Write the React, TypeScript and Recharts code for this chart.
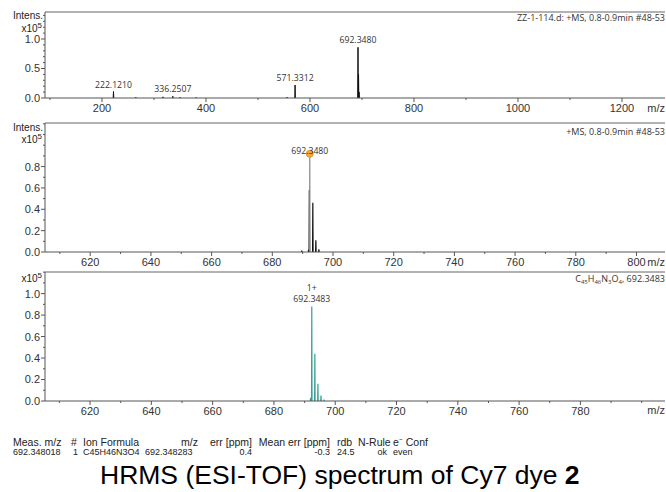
import React from "react";
import { LineChart, Line, XAxis, YAxis, ReferenceDot, ReferenceLine } from "recharts";

// survey spectrum (top panel), intensities in x10^5
const surveyMz = [222.121, 265.1, 317.2, 336.2507, 350.3, 381.2, 555.8, 571.3312, 692.348, 693.35, 694.35];
const surveyIntensity = [0.11, 0.012, 0.02, 0.03, 0.012, 0.01, 0.015, 0.22, 0.86, 0.4, 0.1];
const surveyLabelMz = [222.121, 336.2507, 571.3312, 692.348];
const surveyLabelIntensity = [0.11, 0.03, 0.22, 0.86];
const surveyLabelText = ["222.1210", "336.2507", "571.3312", "692.3480"];
const surveyXLabels = [200, 400, 600, 800, 1000, 1200];
const surveyXMinor = [100, 300, 500, 700, 900, 1100];
const surveyYLabels = [0, 0.5, 1.0];
const surveyYMinor = [0.1, 0.2, 0.3, 0.4, 0.6, 0.7, 0.8, 0.9, 1.1, 1.2, 1.3, 1.4];

// zoomed measured spectrum (middle panel)
const zoomMz = [689.7, 691.95, 692.2, 693.35, 694.35, 695.35];
const zoomIntensity = [0.012, 0.02, 0.58, 0.46, 0.11, 0.025];
const zoomApexMz = [692.348];
const zoomApexIntensity = [0.92];
const zoomApexText = ["692.3480"];
const zoomXLabels = [620, 640, 660, 680, 700, 720, 740, 760, 780, 800];
const zoomXMinor = [610, 630, 650, 670, 690, 710, 730, 750, 770, 790];
const zoomYLabels = [0, 0.2, 0.4, 0.6, 0.8];
const zoomYMinor = [0.1, 0.3, 0.5, 0.7, 0.9, 1.0, 1.1, 1.2];

// simulated isotope pattern (bottom panel)
const simMz = [691.95, 692.348, 693.35, 694.35, 695.35, 696.35];
const simIntensity = [0.03, 0.88, 0.44, 0.16, 0.05, 0.012];
const simLabelText = ["1+", "692.3483"];
const simXLabels = [620, 640, 660, 680, 700, 720, 740, 760, 780];
const simXMinor = [610, 630, 650, 670, 690, 710, 730, 750, 770, 790, 800];
const simYLabels = [0, 0.2, 0.4, 0.6, 0.8, 1.0];
const simYMinor = [0.1, 0.3, 0.5, 0.7, 0.9, 1.1, 1.2];

const tableHead = ["Meas. m/z", "#", "Ion Formula", "m/z", "err [ppm]", "Mean err [ppm]", "rdb", "N-Rule", "e\u207B Conf"];
const tableRow = ["692.348018", "1", "C45H46N3O4", "692.348283", "0.4", "-0.3", "24.5", "ok", "even"];

const ARIAL = "'Liberation Sans', Arial, sans-serif";
const SANS = "'Open Sans', sans-serif";

// column anchors for the result table: [x, align]
const headPos: [number, "l" | "r"][] = [[13, "l"], [71, "l"], [83, "l"], [198, "r"], [252, "r"], [330, "r"], [337, "l"], [358, "l"], [393, "l"]];
const rowPos: [number, "l" | "r"][] = [[13, "l"], [73, "l"], [83, "l"], [145, "l"], [252, "r"], [330, "r"], [337, "l"], [387, "r"], [393, "l"]];

const sticks = (mz: number[], ints: number[], hw: number) => {
  const pts: { mz: number; v: number | null }[] = [];
  mz.forEach((m, i) => {
    pts.push({ mz: m - hw, v: 0 }, { mz: m, v: ints[i] }, { mz: m + hw, v: 0 }, { mz: m + hw * 1.01, v: null });
  });
  return pts;
};

const isIn = (arr: number[], v: number) => arr.some((a) => Math.abs(a - v) < 1e-6);

const makeYTick = (labels: number[]) => (props: any) => {
  const { x, y, payload } = props;
  const major = isIn(labels, payload.value);
  const len = major ? 4 : 2;
  return (
    <g>
      <line x1={x - len} x2={x} y1={y} y2={y} stroke="#555" />
      {major && (
        <text x={x - 5} y={y} dy="0.36em" textAnchor="end" fontSize={11} fill="#333" fontFamily={ARIAL}>
          {payload.value.toFixed(1)}
        </text>
      )}
    </g>
  );
};

const makeXTick = (labels: number[]) => (props: any) => {
  const { x, y, payload } = props;
  const major = isIn(labels, payload.value);
  const len = major ? 4 : 2;
  return (
    <g>
      <line x1={x} x2={x} y1={y} y2={y + len} stroke="#555" />
      {major && (
        <text x={x} y={y + 14} textAnchor="middle" fontSize={11} fill="#333" fontFamily={ARIAL}>
          {payload.value}
        </text>
      )}
    </g>
  );
};

const T = ({ x, y, size, right, family = ARIAL, weight, color = "#222", children }: any) => (
  <div
    style={{
      position: "absolute",
      top: y - size / 2,
      ...(right ? { right: 666 - x } : { left: x }),
      fontSize: size,
      lineHeight: `${size}px`,
      fontFamily: family,
      fontWeight: weight,
      color,
      whiteSpace: "nowrap",
    }}
  >
    {children}
  </div>
);

const Sup = ({ children }: any) => (
  <span style={{ fontSize: 8, position: "relative", top: -4, lineHeight: 0 }}>{children}</span>
);
const Sub = ({ children }: any) => (
  <span style={{ fontSize: 6, position: "relative", top: 2, lineHeight: 0 }}>{children}</span>
);

const peakLabel = { fontSize: 8.7, fill: "#333", fontFamily: SANS };

export default function App() {
  const surveyTop = 1.458;
  const zoomTop = 1.208;
  const simTop = 1.201;
  return (
    <div style={{ position: "absolute", left: 0, top: 0, width: 666, height: 492, background: "#fff", overflow: "hidden" }}>
      {/* top: full scan */}
      <div style={{ position: "absolute", left: 0, top: 0 }}>
        <LineChart width={666} height={120} margin={{ top: 12, right: 1, bottom: 0, left: 0 }}>
          <XAxis dataKey="mz" type="number" domain={[90.4, 1282.7]} allowDataOverflow height={22}
            ticks={[...surveyXMinor, ...surveyXLabels].sort((a, b) => a - b)} interval={0}
            tickSize={0} tickMargin={0} tickLine={false} stroke="#555" tick={makeXTick(surveyXLabels)} />
          <YAxis type="number" domain={[0, surveyTop]} allowDataOverflow width={45}
            ticks={[...surveyYLabels, ...surveyYMinor].sort((a, b) => a - b)} interval={0}
            tickSize={0} tickMargin={0} tickLine={false} stroke="#555" tick={makeYTick(surveyYLabels)} />
          <ReferenceLine y={surveyTop} stroke="#999" strokeWidth={1.5} />
          <Line data={sticks(surveyMz, surveyIntensity, 0.6)} dataKey="v" stroke="#111" strokeWidth={1}
            dot={false} isAnimationActive={false} />
          {surveyLabelMz.map((m, i) => (
            <ReferenceDot key={i} x={m} y={surveyLabelIntensity[i]} r={0} stroke="none"
              label={{ value: surveyLabelText[i], position: "top", offset: 4, style: peakLabel }} />
          ))}
        </LineChart>
      </div>

      {/* middle: measured, zoomed */}
      <div style={{ position: "absolute", left: 0, top: 115 }}>
        <LineChart width={666} height={160} margin={{ top: 8, right: 1, bottom: 0, left: 0 }}>
          <XAxis dataKey="mz" type="number" domain={[605.1, 809.4]} allowDataOverflow height={23}
            ticks={[...zoomXMinor, ...zoomXLabels].sort((a, b) => a - b)} interval={0}
            tickSize={0} tickMargin={0} tickLine={false} stroke="#555" tick={makeXTick(zoomXLabels)} />
          <YAxis type="number" domain={[0, zoomTop]} allowDataOverflow width={45}
            ticks={[...zoomYLabels, ...zoomYMinor].sort((a, b) => a - b)} interval={0}
            tickSize={0} tickMargin={0} tickLine={false} stroke="#555" tick={makeYTick(zoomYLabels)} />
          <ReferenceLine y={zoomTop} stroke="#999" strokeWidth={1.5} />
          <Line data={sticks(zoomMz, zoomIntensity, 0.08)} dataKey="v" stroke="#111" strokeWidth={1.2}
            dot={false} isAnimationActive={false} />
          <Line data={sticks(zoomApexMz, zoomApexIntensity, 0.06)} dataKey="v" stroke="#8a8a8a" strokeWidth={1.2}
            dot={false} isAnimationActive={false} />
          <ReferenceDot x={zoomApexMz[0]} y={zoomApexIntensity[0]} r={0} stroke="none"
            label={{ value: zoomApexText[0], position: "top", offset: 0, style: peakLabel }} />
          <ReferenceDot x={zoomApexMz[0]} y={zoomApexIntensity[0]} r={3.5} fill="#f5a93a" stroke="#e39a2c" />
        </LineChart>
      </div>

      {/* bottom: simulated pattern */}
      <div style={{ position: "absolute", left: 0, top: 262 }}>
        <LineChart width={666} height={160} margin={{ top: 10, right: 1, bottom: 0, left: 0 }}>
          <XAxis dataKey="mz" type="number" domain={[605.3, 807.6]} allowDataOverflow height={21}
            ticks={[...simXMinor, ...simXLabels].sort((a, b) => a - b)} interval={0}
            tickSize={0} tickMargin={0} tickLine={false} stroke="#555" tick={makeXTick(simXLabels)} />
          <YAxis type="number" domain={[0, simTop]} allowDataOverflow width={45}
            ticks={[...simYLabels, ...simYMinor].sort((a, b) => a - b)} interval={0}
            tickSize={0} tickMargin={0} tickLine={false} stroke="#555" tick={makeYTick(simYLabels)} />
          <ReferenceLine y={simTop} stroke="#999" strokeWidth={1.5} />
          <Line data={sticks(simMz, simIntensity, 0.08)} dataKey="v" stroke="#3a9e98" strokeWidth={1.2}
            dot={false} isAnimationActive={false} />
          <ReferenceDot x={simMz[1]} y={simIntensity[1]} r={0} stroke="none"
            label={{ value: simLabelText[1], position: "top", offset: 4, style: peakLabel }} />
          <ReferenceDot x={simMz[1]} y={simIntensity[1]} r={0} stroke="none"
            label={{ value: simLabelText[0], position: "top", offset: 15.5, style: peakLabel }} />
        </LineChart>
      </div>

      {/* axis captions and headers */}
      <T x={43} y={16} size={10} right>Intens.</T>
      <T x={42} y={29} size={10} right>x10<Sup>5</Sup></T>
      <T x={665} y={17.3} size={9} right family={SANS} color="#333">ZZ-1-114.d: +MS, 0.8-0.9min #48-53</T>
      <T x={665} y={108} size={11} right color="#333">m/z</T>

      <T x={43} y={128} size={10} right>Intens.</T>
      <T x={42} y={139.5} size={10} right>x10<Sup>5</Sup></T>
      <T x={665} y={131} size={9} right family={SANS} color="#333">+MS, 0.8-0.9min #48-53</T>
      <T x={665} y={262} size={11} right color="#333">m/z</T>

      <T x={42} y={279} size={10} right>x10<Sup>5</Sup></T>
      <T x={665} y={278.3} size={9} right family={SANS} color="#333">
        C<Sub>45</Sub>H<Sub>46</Sub>N<Sub>3</Sub>O<Sub>4</Sub>, 692.3483
      </T>
      <T x={665} y={410} size={11} right color="#333">m/z</T>

      {/* result table */}
      {tableHead.map((h, i) => (
        <T key={"h" + i} x={headPos[i][0]} y={442} size={10.5} right={headPos[i][1] === "r"}>{h}</T>
      ))}
      {tableRow.map((c, i) => (
        <T key={"r" + i} x={rowPos[i][0]} y={452.2} size={9} right={rowPos[i][1] === "r"}>{c}</T>
      ))}

      <T x={100} y={475} size={26.5} color="#000">
        HRMS (ESI-TOF) spectrum of Cy7 dye <b>2</b>
      </T>
    </div>
  );
}
